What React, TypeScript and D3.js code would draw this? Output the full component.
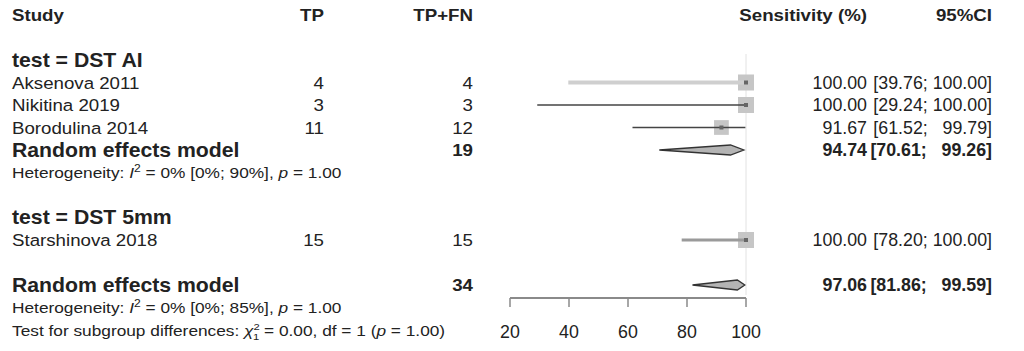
import React from "react";
import * as d3 from "d3";

// ---- data ----
const studyNames = ["Aksenova 2011", "Nikitina 2019", "Borodulina 2014", "Starshinova 2018"];
const studyTP = [4, 3, 11, 15];
const studyTotal = [4, 3, 12, 15];
const studyEst = [100, 100, 91.67, 100];
const studyLower = [39.76, 29.24, 61.52, 78.2];
const studyUpper = [100, 100, 99.79, 100];
const studyWeight = [1, 1, 0.85, 1];

const groupLabels = ["test = DST AI", "test = DST 5mm"];
const groupTotal = [19];
const groupEst = [94.74];
const groupLower = [70.61];
const groupUpper = [99.26];
const groupHet = ["0% [0%; 90%]"];
const groupHetP = ["1.00"];

const overallTotal = 34;
const overallEst = 97.06;
const overallLower = 81.86;
const overallUpper = 99.59;
const overallHet = "0% [0%; 85%]";
const overallHetP = "1.00";
const subgroupChi = "0.00";
const subgroupDf = 1;
const subgroupP = "1.00";

const axisTicks = [20, 40, 60, 80, 100];

// ---- layout ----
const W = 1024;
const H = 351;
const rowY = (i: number) => 15 + i * 22.5;
const FONT = "'Liberation Sans', Arial, Helvetica, sans-serif";
const FS = 17.3;
const SX = 1.08;
const FS_BIG = 19.3;
const SX_BIG = 1.1;
const FS_NUM = 17.8;
const FS_SMALL = 15.3;
const SX_SMALL = 1.13;
const TXT = "#222";

const x = d3.scaleLinear().domain([20, 100]).range([510, 746]);
const boxScale = d3.scaleSqrt().domain([0, 1]).range([0, 16]);

const padU = (v: number) => {
  const s = v.toFixed(2);
  return s.length < 6 ? "  " + s : s;
};
const fmtCI = (l: number, u: number) => `[${l.toFixed(2)}; ${padU(u)}]`;

function T(props: any) {
  const { x: tx, row, anchor = "start", bold = false, size = FS, sx = SX, children } = props;
  return (
    <text
      transform={`translate(${tx},${rowY(row) + size * 0.36}) scale(${sx},1)`}
      textAnchor={anchor}
      fontWeight={bold ? "bold" : "normal"}
      fontSize={size}
      fill={TXT}
      style={{ whiteSpace: "pre" }}
    >
      {children}
    </text>
  );
}

function Diamond({ est, lo, hi, row }: any) {
  const y = rowY(row);
  const h = 5;
  const pts = [
    [x(lo), y],
    [x(est), y - h],
    [x(hi), y],
    [x(est), y + h],
  ];
  return (
    <polygon
      points={pts.map((p) => p.join(",")).join(" ")}
      fill="#b4b4b4"
      stroke="#333"
      strokeWidth={1.3}
    />
  );
}

function Het({ row, het, p }: any) {
  return (
    <T x={12} row={row} size={FS_SMALL} sx={SX_SMALL}>
      {"Heterogeneity: "}
      <tspan fontStyle="italic">I</tspan>
      <tspan dy={-6} fontSize={FS_SMALL * 0.7}>2</tspan>
      <tspan dy={6}>{` = ${het}, `}</tspan>
      <tspan fontStyle="italic">p</tspan>
      {` = ${p}`}
    </T>
  );
}

export default function App() {
  const studyRows = [3, 4, 5, 10];
  const ciStyles = [
    { stroke: "#cfcfcf", w: 4 },
    { stroke: "#444", w: 1.5 },
    { stroke: "#444", w: 1.5 },
    { stroke: "#9a9a9a", w: 3 },
  ];
  return (
    <svg
      width={W}
      height={H}
      style={{ position: "absolute", left: 0, top: 0, background: "#fff" }}
      fontFamily={FONT}
    >
      {/* header */}
      <T x={12} row={0} bold>Study</T>
      <T x={324} row={0} anchor="end" bold>TP</T>
      <T x={473} row={0} anchor="end" bold>TP+FN</T>
      <T x={867} row={0} anchor="end" bold>Sensitivity (%)</T>
      <T x={992} row={0} anchor="end" bold>95%CI</T>

      {/* reference line */}
      <line x1={x(100)} x2={x(100)} y1={rowY(2) - 6} y2={rowY(12) + 10} stroke="#e2e2e2" strokeWidth={1} />

      {/* group labels */}
      <T x={12} row={2} bold size={FS_BIG} sx={SX_BIG}>{groupLabels[0]}</T>
      <T x={12} row={9} bold size={FS_BIG} sx={SX_BIG}>{groupLabels[1]}</T>

      {/* studies */}
      {studyNames.map((name, i) => {
        const r = studyRows[i];
        const y = rowY(r);
        const s = boxScale(studyWeight[i]);
        return (
          <g key={name}>
            <T x={12} row={r}>{name}</T>
            <T x={324} row={r} anchor="end">{String(studyTP[i])}</T>
            <T x={473} row={r} anchor="end">{String(studyTotal[i])}</T>
            <T x={867} row={r} anchor="end" size={FS_NUM} sx={1}>{studyEst[i].toFixed(2)}</T>
            <T x={992} row={r} anchor="end" size={FS_NUM} sx={1}>{fmtCI(studyLower[i], studyUpper[i])}</T>
            <rect x={x(studyEst[i]) - s / 2} y={y - s / 2} width={s} height={s} fill="#c6c6c6" />
            <line
              x1={x(studyLower[i])}
              x2={x(studyUpper[i])}
              y1={y}
              y2={y}
              stroke={ciStyles[i].stroke}
              strokeWidth={ciStyles[i].w}
            />
            <rect x={x(studyEst[i]) - 2} y={y - 2} width={4} height={4} fill="#666" />
          </g>
        );
      })}

      {/* group pooled */}
      <T x={12} row={6} bold size={FS_BIG} sx={SX_BIG}>Random effects model</T>
      <T x={473} row={6} anchor="end" bold>{String(groupTotal[0])}</T>
      <T x={867} row={6} anchor="end" bold size={FS_NUM} sx={1}>{groupEst[0].toFixed(2)}</T>
      <T x={992} row={6} anchor="end" bold size={FS_NUM} sx={1}>{fmtCI(groupLower[0], groupUpper[0])}</T>
      <Diamond est={groupEst[0]} lo={groupLower[0]} hi={groupUpper[0]} row={6} />
      <Het row={7} het={groupHet[0]} p={groupHetP[0]} />

      {/* overall */}
      <T x={12} row={12} bold size={FS_BIG} sx={SX_BIG}>Random effects model</T>
      <T x={473} row={12} anchor="end" bold>{String(overallTotal)}</T>
      <T x={867} row={12} anchor="end" bold size={FS_NUM} sx={1}>{overallEst.toFixed(2)}</T>
      <T x={992} row={12} anchor="end" bold size={FS_NUM} sx={1}>{fmtCI(overallLower, overallUpper)}</T>
      <Diamond est={overallEst} lo={overallLower} hi={overallUpper} row={12} />
      <Het row={13} het={overallHet} p={overallHetP} />
      <T x={12} row={14} size={FS_SMALL} sx={SX_SMALL}>
        {"Test for subgroup differences: "}
        <tspan fontStyle="italic">χ</tspan>
        <tspan dy={-6} fontSize={FS_SMALL * 0.65}>2</tspan>
        <tspan dx={-6} dy={10} fontSize={FS_SMALL * 0.65}>{String(subgroupDf)}</tspan>
        <tspan dy={-4}>{` = ${subgroupChi}, df = ${subgroupDf} (`}</tspan>
        <tspan fontStyle="italic">p</tspan>
        {` = ${subgroupP})`}
      </T>

      {/* axis */}
      <g>
        <line x1={x(20)} x2={x(100)} y1={298} y2={298} stroke="#8a8a8a" strokeWidth={2} />
        {axisTicks.map((t) => (
          <g key={t}>
            <line x1={x(t)} x2={x(t)} y1={298} y2={307} stroke="#8a8a8a" strokeWidth={1.5} />
            <text x={x(t)} y={338} textAnchor="middle" fontSize={FS_NUM} fill={TXT}>
              {String(t)}
            </text>
          </g>
        ))}
      </g>
    </svg>
  );
}
